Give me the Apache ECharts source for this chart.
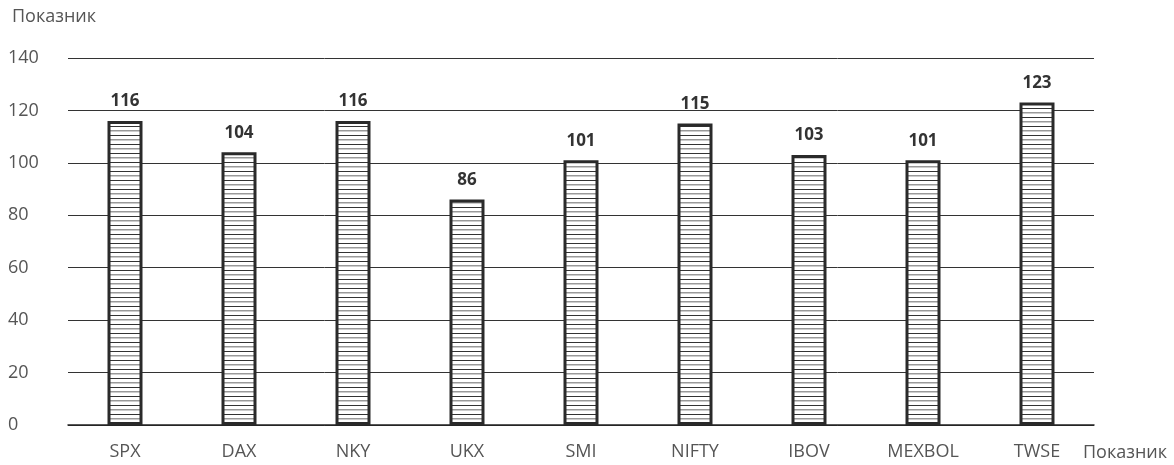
<!DOCTYPE html>
<html><head><meta charset="utf-8">
<script src="https://cdn.jsdelivr.net/npm/echarts@6/dist/echarts.min.js"></script>
<style>html,body{margin:0;padding:0;background:#fff}#c{width:1174px;height:465px}</style>
</head><body><div id="c"></div>
<script>
const categories = ['SPX','DAX','NKY','UKX','SMI','NIFTY','IBOV','MEXBOL','TWSE'];
const values = [116,104,116,86,101,115,103,101,123];
const yTicks = [0,20,40,60,80,100,120,140];
const axisName = 'Показник';

const pc = document.createElement('canvas');
pc.width = 8; pc.height = 9;
const g = pc.getContext('2d');
g.fillStyle = '#fff'; g.fillRect(0,0,8,9);
g.fillStyle = '#333'; g.fillRect(0,0,8,1);
g.fillStyle = '#999'; g.fillRect(0,4,8,1.5);

const chart = echarts.init(document.getElementById('c'));
chart.setOption({
  animation:false,
  textStyle:{fontFamily:'"Open Sans", "Noto Sans", sans-serif'},
  grid:{left:68,right:80,top:58,bottom:40,outerBoundsMode:'none',containLabel:false},
  xAxis:{type:'category',data:categories,
    name:axisName,nameLocation:'end',nameGap:-11,
    nameTextStyle:{color:'#555',fontSize:18,align:'left',verticalAlign:'top',padding:[19,0,0,0]},
    axisLine:{lineStyle:{color:'#222',width:1.5}},axisTick:{show:false},
    axisLabel:{color:'#555',fontSize:18,margin:18}},
  yAxis:{type:'value',min:0,max:140,interval:20,
    name:axisName,nameLocation:'end',nameGap:32,
    nameTextStyle:{color:'#555',fontSize:18,align:'left',padding:[0,0,0,-56]},
    axisLine:{show:false},axisTick:{show:false},
    axisLabel:{color:'#555',fontSize:18,margin:60,align:'left',
      formatter:v=>yTicks.includes(v)?String(v):''},
    splitLine:{lineStyle:{color:'#333',width:1}}},
  series:[{type:'bar',data:values,barWidth:35,
    itemStyle:{color:{image:pc,repeat:'repeat'},borderColor:'#2a2a2a',borderWidth:3},
    label:{show:true,position:'top',distance:11,fontWeight:'bold',color:'#333',fontSize:17}}]
});
</script></body></html>
